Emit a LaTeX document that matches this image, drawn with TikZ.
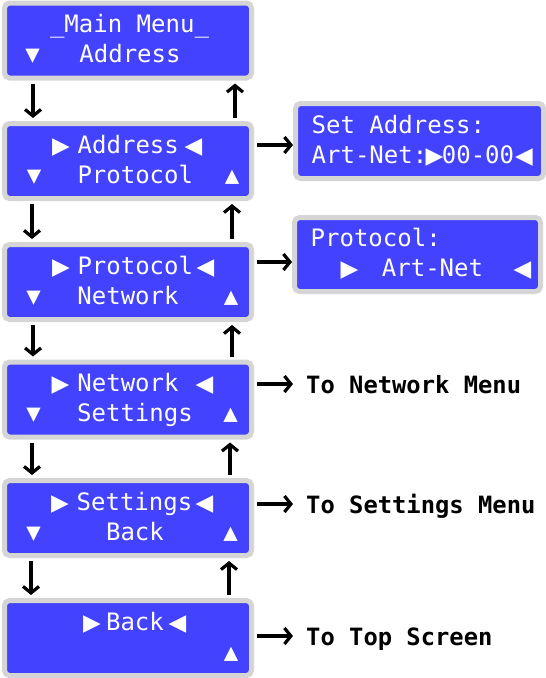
\documentclass[tikz,border=0pt]{standalone}
\usepackage{fontspec}
\newfontfamily\lcdfont{DejaVu Sans Mono}
\newfontfamily\symfont{DejaVu Sans}
\usetikzlibrary{arrows.meta}
\definecolor{lcdblue}{RGB}{66,66,255}
\definecolor{lcdgray}{RGB}{213,213,213}
\newcommand{\rtri}{{\symfont\fontsize{23}{23}\selectfont ▶}}
\newcommand{\ltri}{{\symfont\fontsize{23}{23}\selectfont ◀}}
\begin{document}
\begin{tikzpicture}[x=1pt,y=-1pt,
  lcd/.style={draw=lcdgray, fill=lcdblue, line width=5pt, rounded corners=5pt,
    minimum width=247pt, minimum height=75pt, inner sep=0pt},
  sidelcd/.style={lcd, minimum width=248pt},
  txt/.style={text=white, font=\lcdfont\fontsize{24}{24}\selectfont, inner sep=0pt, anchor=base},
  txtw/.style={txt, anchor=base west},
  lbl/.style={text=black, font=\lcdfont\bfseries\fontsize{23.8}{24}\selectfont,
    inner ysep=0pt, inner xsep=13pt, text height=18pt, text depth=0pt, anchor=base west},
  arr/.style={line width=3.2pt, -{Straight Barb[length=6.5pt,width=16pt]}},
  varr/.style={arr, shorten <=3pt, shorten >=3pt}
]
\useasboundingbox (0,0) rectangle (546,678);

% main menu boxes
\node[lcd] (b1) at (128,40.5) {};
\node[lcd] (b2) at (128,161) {};
\node[lcd] (b3) at (128,282) {};
\node[lcd] (b4) at (128,399.5) {};
\node[lcd] (b5) at (128,518) {};
\node[lcd] (b6) at (128,638) {};

% side boxes
\node[sidelcd] (sa) at (419.5,141) {};
\node[lcd, minimum width=246pt, minimum height=74pt] (sp) at (417.5,254.5) {};

% box 1
\node[txt] (t1a) at (129.5,32.5) {\_Main Menu\_};
\node[txt] (t1b) at (32.5,62.5) {▼};
\node[txt] (t1c) at (130,62.5) {Address};
% box 2
\node[txt] (t2a) at (61,153) {\rtri};
\node[txt] (t2b) at (128.3,153) {Address};
\node[txt] (t2c) at (193.5,153) {\ltri};
\node[txt] (t2d) at (34,183) {▼};
\node[txt] (t2e) at (135.3,183) {Protocol};
\node[txt] (t2f) at (232,183) {▲};
% box 3
\node[txt] (t3a) at (61,274) {\rtri};
\node[txt] (t3b) at (135.3,274) {Protocol};
\node[txt] (t3c) at (205.5,274) {\ltri};
\node[txt] (t3d) at (33.5,304) {▼};
\node[txt] (t3e) at (128,304) {Network};
\node[txt] (t3f) at (231,304) {▲};
% box 4
\node[txt] (t4a) at (60.5,391.5) {\rtri};
\node[txt] (t4b) at (128,391.5) {Network};
\node[txt] (t4c) at (204.5,391.5) {\ltri};
\node[txt] (t4d) at (33.5,421.5) {▼};
\node[txt] (t4e) at (135,421.5) {Settings};
\node[txt] (t4f) at (230.5,421.5) {▲};
% box 5
\node[txt] (t5a) at (60,510) {\rtri};
\node[txt] (t5b) at (134.5,510) {Settings};
\node[txt] (t5c) at (204.5,510) {\ltri};
\node[txt] (t5d) at (33.5,540) {▼};
\node[txt] (t5e) at (135,540) {Back};
\node[txt] (t5f) at (230.5,540) {▲};
% box 6
\node[txt] (t6a) at (92,630) {\rtri};
\node[txt] (t6b) at (135,630) {Back};
\node[txt] (t6c) at (177.5,630) {\ltri};
\node[txt] (t6f) at (231,660) {▲};

% side box A
\node[txtw] (sa1) at (311.5,133) {Set Address:};
\node[txtw] (sa2) at (311.5,163) {Art-Net:};
\node[txt] (sa3) at (434.5,163) {\rtri};
\node[txt] (sa4) at (478,163) {00-00};
\node[txt] (sa5) at (524,163) {\ltri};
% side box P
\node[txtw] (sp1) at (310.5,246.5) {Protocol:};
\node[txt] (sp2) at (349.5,276.5) {\rtri};
\node[txt] (sp3) at (432.5,276.5) {Art-Net};
\node[txt] (sp4) at (522.5,276.5) {\ltri};

% labels
\node[lbl] (l4) at (293,393) {To Network Menu};
\node[lbl] (l5) at (293,513) {To Settings Menu};
\node[lbl] (l6) at (293,645) {To Top Screen};

% vertical arrows
\draw[varr] (b1.south -| 33,0) -- (b2.north -| 33,0);
\draw[varr] (b2.north -| 235,0) -- (b1.south -| 235,0);
\draw[varr] (b2.south -| 32,0) -- (b3.north -| 32,0);
\draw[varr] (b3.north -| 232,0) -- (b2.south -| 232,0);
\draw[varr] (b3.south -| 33,0) -- (b4.north -| 33,0);
\draw[varr] (b4.north -| 232,0) -- (b3.south -| 232,0);
\draw[varr] (b4.south -| 32,0) -- (b5.north -| 32,0);
\draw[varr] (b5.north -| 230,0) -- (b4.south -| 230,0);
\draw[varr] (b5.south -| 31,0) -- (b6.north -| 31,0);
\draw[varr] (b6.north -| 229,0) -- (b5.south -| 229,0);

% horizontal arrows
\draw[arr, shorten <=3pt] (b2.east |- 0,145) -- (sa.west |- 0,145);
\draw[arr, shorten <=3pt] (b3.east |- 0,262) -- (sp.west |- 0,262);
\draw[arr, shorten <=3pt] (b4.east |- l4.west) -- (l4.west);
\draw[arr, shorten <=3pt] (b5.east |- l5.west) -- (l5.west);
\draw[arr, shorten <=3pt] (b6.east |- l6.west) -- (l6.west);
\end{tikzpicture}
\end{document}
